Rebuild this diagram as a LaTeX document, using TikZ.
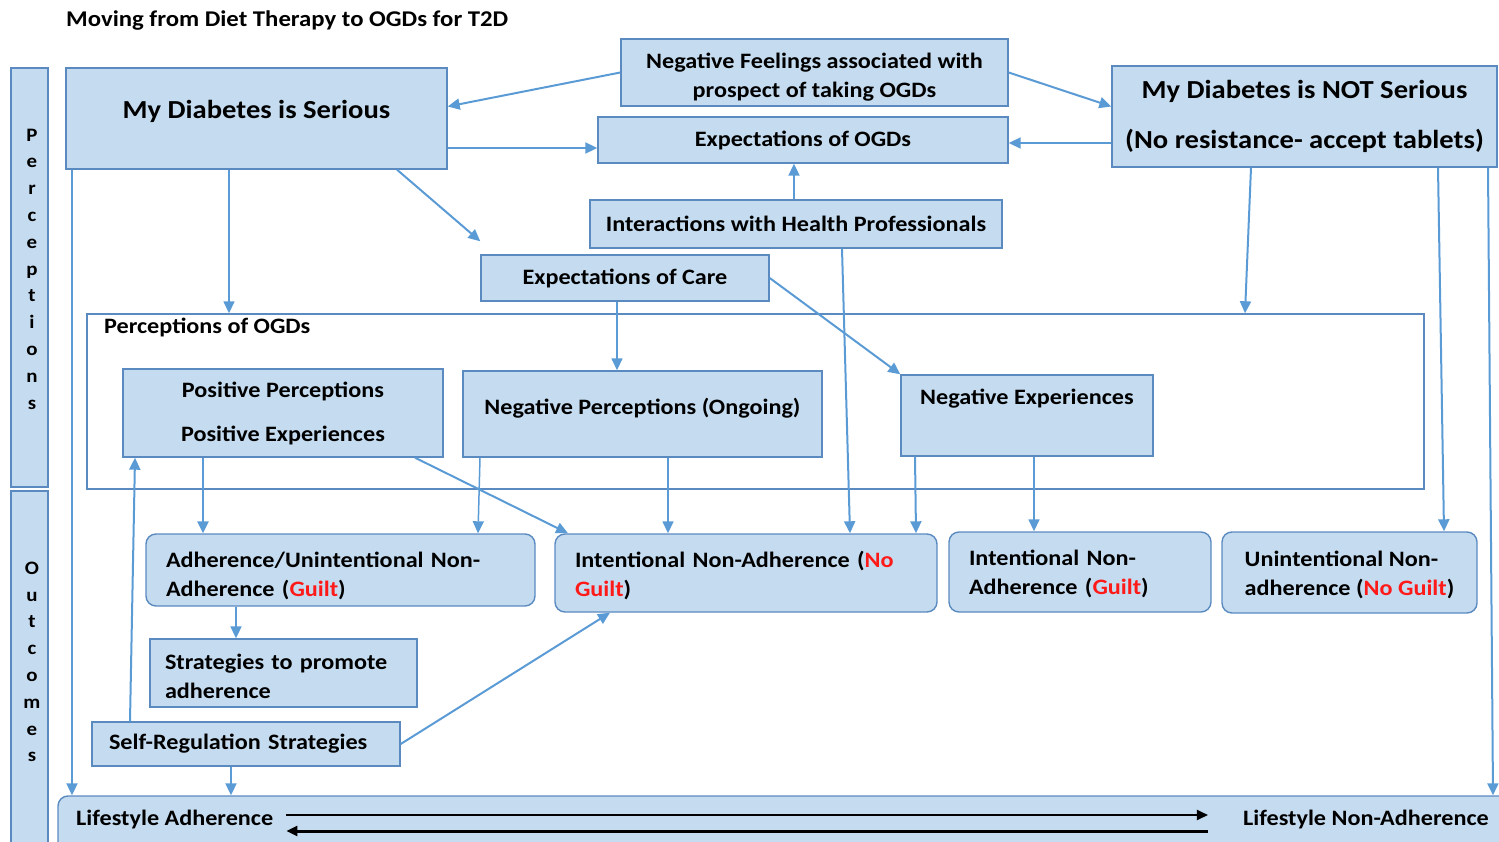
\documentclass[tikz,border=0pt]{standalone}
\usepackage{fontspec}
\setmainfont{Carlito}[FakeStretch=1.1]
\usetikzlibrary{arrows.meta}
\definecolor{boxfill}{HTML}{C5DCF0}
\definecolor{boxline}{HTML}{5A8AC0}
\definecolor{link}{HTML}{5B9BD5}
\definecolor{guilt}{HTML}{FF1A1A}
\newcommand\fsz[2]{\fontsize{#1}{#2}\selectfont}
\newcommand\red[1]{\textcolor{guilt}{#1}}

\begin{document}
\begin{tikzpicture}[x=1pt,y=-1pt,
  box/.style={draw=boxline, fill=boxfill, line width=1.4pt, inner sep=0pt,
    font=\fsz{22}{29}\bfseries, align=center},
  rbox/.style={box, rounded corners=10pt},
  lbox/.style={align=left},
  conn/.style={draw=link, line width=2pt, -{Triangle[length=12pt,width=11pt]}},
  blk/.style={draw=black, -{Triangle[length=11pt,width=10pt]}},
  lbl/.style={inner sep=0pt, font=\fsz{22}{29}\bfseries},
  letters/.style={inner sep=0pt, align=center, font=\fsz{19}{26.8}\bfseries}]

\useasboundingbox (0,0) rectangle (1499,842);

% title
\node[lbl, anchor=west, font=\fsz{22.5}{26}\bfseries] (title) at (66,21)
  {Moving from Diet Therapy to OGDs for T2D};

% side bars
\node[box, minimum width=37pt, minimum height=419pt] (percbar) at (29.5,277.5) {};
\node[letters] (percletters) at (32,269) {P\\e\\r\\c\\e\\p\\t\\i\\o\\n\\s};
\node[box, minimum width=37pt, minimum height=389pt] (outbar) at (29.5,685.5) {};
\node[letters] (outletters) at (32,662) {O\\u\\t\\c\\o\\m\\e\\s};

% top row
\node[box, minimum width=381pt, minimum height=101pt, font=\fsz{26}{30}\bfseries,
  text height=12pt, text depth=12pt] (serious) at (256.5,118.5) {My Diabetes is Serious};
\node[box, minimum width=387pt, minimum height=67pt, text height=53pt] (negfeel) at (814.5,72.5)
  {Negative Feelings associated with\\prospect of taking OGDs};
\node[box, minimum width=410pt, minimum height=46pt] (expogd) at (803,140)
  {Expectations of OGDs};
\node[box, minimum width=385pt, minimum height=101pt, font=\fsz{26}{50}\bfseries]
  (notser) at (1304.5,116.5) {My Diabetes is NOT Serious\\(No resistance- accept tablets)};
\node[box, minimum width=412pt, minimum height=48pt] (inter) at (796,224)
  {Interactions with Health Professionals};
\node[box, minimum width=288pt, minimum height=46pt] (care) at (625,278)
  {Expectations of Care};

% perceptions of OGDs
\node[draw=boxline, line width=1.4pt, minimum width=1337pt, minimum height=175pt,
  inner sep=0pt] (percbox) at (755.5,401.5) {};
\node[lbl, anchor=west] (perclabel) at (104,327) {Perceptions of OGDs};
\node[box, minimum width=320pt, minimum height=88pt, font=\fsz{22}{44}\bfseries]
  (pos) at (283,413) {Positive Perceptions\\Positive Experiences};
\node[box, minimum width=359pt, minimum height=86pt, text height=8pt, text depth=8pt]
  (negperc) at (642.5,414) {Negative Perceptions (Ongoing)};
\node[box, minimum width=252pt, minimum height=81pt, text height=5pt, text depth=28pt]
  (negexp) at (1027,415.5) {Negative Experiences};

% outcomes
\node[rbox, lbox, minimum width=389pt, minimum height=72pt, text width=349pt,
  text height=28pt] (adh) at (340.5,570) {Adherence/Unintentional Non-\\Adherence (\red{Guilt})};
\node[rbox, lbox, minimum width=382pt, minimum height=78pt, text width=342pt,
  text height=22pt] (intng) at (746,573) {Intentional Non-Adherence (\red{No}\\\red{Guilt})};
\node[rbox, lbox, minimum width=262pt, minimum height=80pt, text width=222pt,
  text height=20pt] (intg) at (1080,572) {Intentional Non-\\Adherence (\red{Guilt})};
\node[rbox, lbox, minimum width=255pt, minimum height=81pt,
  text height=49pt] (unintng) at (1349.5,572.5) {Unintentional Non-\\adherence (\red{No Guilt})};
\node[box, lbox, minimum width=267pt, minimum height=68pt, text width=237pt,
  text height=22pt] (strat) at (283.5,673) {Strategies to promote\\adherence};
\node[box, lbox, minimum width=308pt, minimum height=44pt, text width=274pt]
  (selfreg) at (246,744) {Self-Regulation Strategies};

% lifestyle band
\node[rbox, minimum width=1482pt, minimum height=74pt] (life) at (799,833) {};
\node[lbl, anchor=west] (ladh) at (76,820) {Lifestyle Adherence};
\node[lbl, anchor=east] (lnon) at (1489,820) {Lifestyle Non-Adherence};
\draw[blk, line width=2pt] ([shift={(13,-5)}]ladh.east) -- ([shift={(-35,-5)}]lnon.west);
\draw[blk, line width=3pt] ([shift={(-35,11)}]lnon.west) -- ([shift={(13,11)}]ladh.east);

% connectors
\draw[conn] (negfeel.west) -- ([yshift=12pt]serious.east);
\draw[conn] (negfeel.east) -- ([yshift=10pt]notser.west);
\draw[conn] (serious.east |- 0,148) -- (expogd.west |- 0,148);
\draw[conn] (notser.west |- 0,143) -- (expogd.east |- 0,143);
\draw[conn] (inter.north -| 794,0) -- (expogd.south -| 794,0);
\draw[conn] (serious.south -| 397,0) -- ([yshift=13pt]care.north west);
\draw[conn, line width=1.5pt] (serious.south -| 229,0) -- (percbox.north -| 229,0);
\draw[conn] (serious.south -| 72,0) -- (life.north -| 72,0);
\draw[conn, line width=1.5pt] (care.south -| 617,0) -- (negperc.north -| 617,0);
\draw[conn] (care.east) -- (negexp.north west);
\draw[conn] (inter.south -| 842,0) -- (intng.north -| 850,0);
\draw[conn] (notser.south -| 1251,0) -- (percbox.north -| 1245,0);
\draw[conn] (notser.south -| 1438,0) -- (unintng.north -| 1444,0);
\draw[conn] (notser.south -| 1488,0) -- (life.north -| 1493,0);
\draw[conn, line width=2.5pt] (pos.south -| 203,0) -- (adh.north -| 203,0);
\draw[conn] (pos.south -| 415,0) -- (intng.north -| 568,0);
\draw[conn, line width=1.5pt] (negperc.south -| 480,0) -- (adh.north -| 478,0);
\draw[conn, line width=1.5pt] (negperc.south -| 668,0) -- (intng.north -| 668,0);
\draw[conn] (negexp.south -| 915,0) -- (intng.north -| 916,0);
\draw[conn, line width=1.5pt] (negexp.south -| 1034,0) -- (intg.north -| 1034,0);
\draw[conn] (adh.south -| 236,0) -- (strat.north -| 236,0);
\draw[conn] (selfreg.north -| 130,0) -- (pos.south -| 135,0);
\draw[conn] (selfreg.east) -- (intng.south -| 610,0);
\draw[conn] (selfreg.south -| 231,0) -- (life.north -| 231,0);
\end{tikzpicture}
\end{document}
